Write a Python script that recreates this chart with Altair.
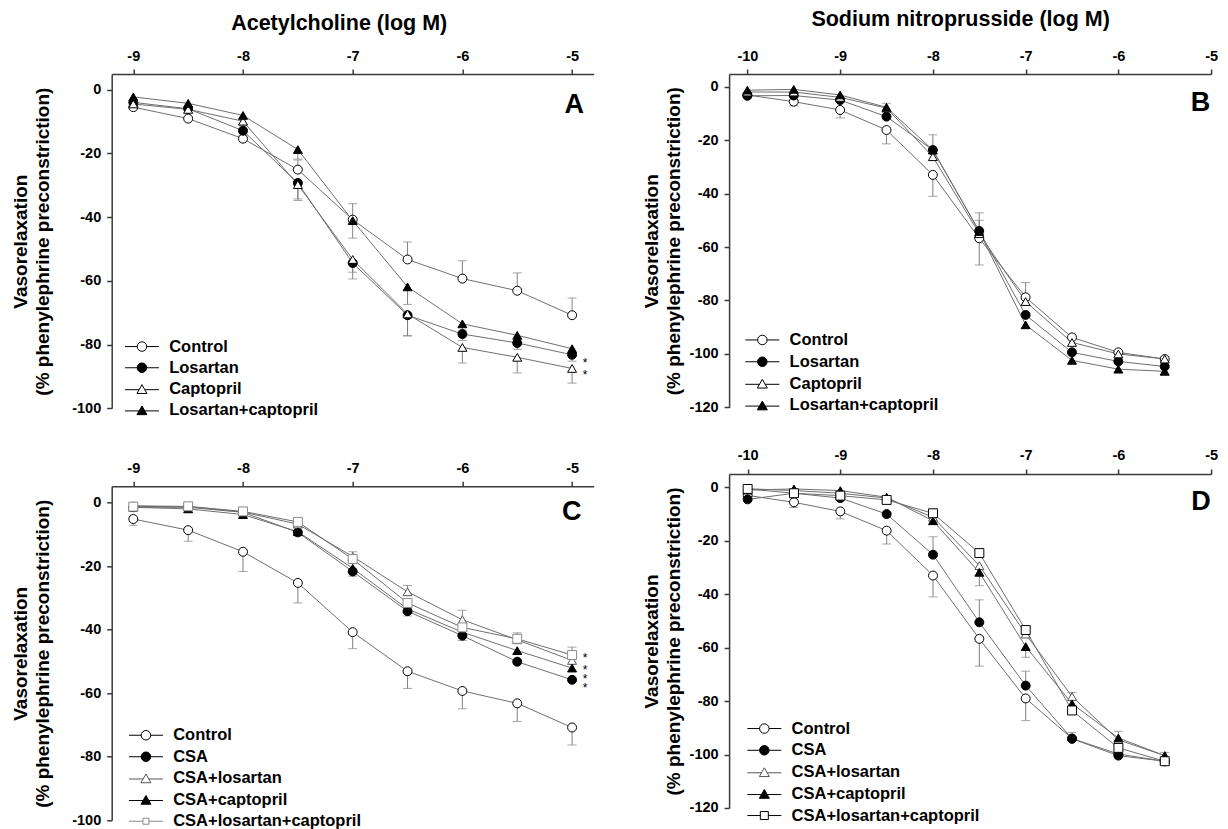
import altair as alt
import pandas as pd

FONT = "Liberation Sans"

# ---------------- data ----------------
# Panel A: acetylcholine, series 1
A_X = [-9, -8.5, -8, -7.5, -7, -6.5, -6, -5.5, -5]
A_NAMES = ["Control", "Losartan", "Captopril", "Losartan+captopril"]
A_CONTROL = [-5.5, -9.1, -15.4, -25.1, -40.8, -53.3, -59.3, -63.1, -70.8]
A_CONTROL_ERR = [0, 0, 1.5, 3.0, 5.0, 5.5, 5.6, 5.6, 5.4]
A_LOSARTAN = [-4.0, -6.0, -12.9, -29.3, -54.4, -70.8, -76.7, -79.5, -83.2]
A_LOSARTAN_ERR = [0, 0, -1.5, -5.0, -5.0, -6.5, -2.0, -2.0, -2.0]
A_CAPTOPRIL = [-4.5, -6.2, -9.9, -29.8, -53.3, -70.4, -80.9, -84.0, -87.5]
A_CAPTOPRIL_ERR = [0, 0, -1.5, -5.0, -4.0, -6.8, -4.9, -4.9, -4.6]
A_LOSCAP = [-2.3, -4.3, -8.1, -18.8, -41.1, -61.9, -73.5, -77.1, -81.3]
A_LOSCAP_ERR = [0, 0, -1.0, -3.0, -5.5, -5.5, -2.0, -2.0, -1.5]
A_STARS = [-85.0, -88.6]

# Panel B: sodium nitroprusside, series 1
B_X = [-10, -9.5, -9, -8.5, -8, -7.5, -7, -6.5, -6, -5.5]
B_NAMES = ["Control", "Losartan", "Captopril", "Losartan+captopril"]
B_CONTROL = [-3.1, -5.6, -8.7, -16.2, -33.0, -56.7, -78.8, -93.8, -99.4, -101.9]
B_CONTROL_ERR = [0, -1.5, -3.0, -5.2, -8.0, -10.0, 5.5, 0, 0, 0]
B_LOSARTAN = [-3.4, -3.3, -5.0, -11.2, -23.7, -54.0, -85.4, -99.4, -102.8, -104.7]
B_LOSARTAN_ERR = [0, 0, 0, 0, 5.7, 6.8, 0, 0, 0, 0]
B_CAPTOPRIL = [-2.0, -2.0, -4.0, -8.0, -26.2, -55.0, -80.4, -95.7, -100.0, -101.9]
B_CAPTOPRIL_ERR = [0, 0, 0, 0, 0, 5.0, 0, 0, 0, 0]
B_LOSCAP = [-1.3, -1.0, -3.1, -7.7, -23.7, -54.2, -89.1, -102.4, -105.7, -106.5]
B_LOSCAP_ERR = [0, 0, 0, 1.5, 0, 0, 0, 0, 0, 0]

# Panel C: acetylcholine, cyclosporine series
C_X = [-9, -8.5, -8, -7.5, -7, -6.5, -6, -5.5, -5]
C_NAMES = ["Control", "CSA", "CSA+losartan", "CSA+captopril", "CSA+losartan+captopril"]
C_CONTROL = [-5.2, -8.7, -15.5, -25.3, -40.8, -53.1, -59.3, -63.2, -70.8]
C_CONTROL_ERR = [-2.0, -3.5, -6.2, -6.3, -5.2, -5.4, -5.6, -5.7, -5.5]
C_CSA = [-1.5, -1.5, -3.1, -9.4, -21.7, -34.2, -41.9, -50.1, -55.8]
C_CSA_ERR = [0, 0, 0, -1.0, -1.5, -1.5, -1.5, 0, 0]
C_CSALOS = [-1.0, -1.3, -3.0, -6.8, -17.0, -28.1, -36.9, -43.2, -49.7]
C_CSALOS_ERR = [0, 0, 0, 0, 1.5, 2.0, 3.0, 2.2, 1.5]
C_CSACAP = [-1.5, -2.0, -3.8, -9.2, -20.7, -33.5, -40.8, -46.6, -52.1]
C_CSACAP_ERR = [0, 0, 0, 0, 0, 0, 0, 0, 0]
C_CSALOSCAP = [-1.3, -1.2, -2.8, -6.1, -17.8, -31.6, -39.3, -42.9, -48.0]
C_CSALOSCAP_ERR = [0, 0, 0, 0, 0, 0, 0, 0, 2.5]
C_STARS = [-47.9, -51.8, -54.7, -57.5]

# Panel D: sodium nitroprusside, cyclosporine series
D_X = [-10, -9.5, -9, -8.5, -8, -7.5, -7, -6.5, -6, -5.5]
D_NAMES = ["Control", "CSA", "CSA+losartan", "CSA+captopril", "CSA+losartan+captopril"]
D_CONTROL = [-3.0, -5.6, -9.0, -16.2, -33.0, -56.7, -79.0, -94.0, -99.8, -102.5]
D_CONTROL_ERR = [0, -1.9, -2.8, -5.0, -8.0, -10.2, -8.3, 0, 0, 0]
D_CSA = [-4.5, -2.2, -4.0, -10.0, -25.2, -50.5, -74.2, -94.1, -100.4, -102.5]
D_CSA_ERR = [0, 0, 0, 0, 6.7, 8.4, 5.4, 2.4, 0, 0]
D_CSALOS = [-0.5, -1.2, -2.2, -4.0, -11.2, -29.3, -54.9, -78.3, -94.5, -100.4]
D_CSALOS_ERR = [1.5, 0, 0, 0, 0, 0, 0, 1.5, 0, 0]
D_CSACAP = [-1.0, -0.6, -1.2, -3.7, -12.5, -31.8, -59.6, -81.0, -93.8, -100.4]
D_CSACAP_ERR = [0, 0, 0, 0, 0, -5.0, -4.0, 0, 2.5, 1.2]
D_CSALOSCAP = [-0.6, -2.2, -3.1, -4.7, -9.7, -24.6, -53.4, -83.5, -97.5, -102.5]
D_CSALOSCAP_ERR = [0, 0, 0, 0, 0, 0, 0, 0, 0, 0]

ACH_TICKS = [-9, -8, -7, -6, -5]
SNP_TICKS = [-10, -9, -8, -7, -6, -5]
Y_TICKS_100 = [0, -20, -40, -60, -80, -100]
Y_TICKS_120 = [0, -20, -40, -60, -80, -100, -120]
Y_TITLE = ["Vasorelaxation", "(% phenylephrine preconstriction)"]

# ---------------- styles ----------------
CIRC_L = "M-3.4,0H-0.95M0.95,0H3.4M0.95,0A0.95,0.95,0,1,1,-0.95,0A0.95,0.95,0,1,1,0.95,0Z"
TRI_L = "M-3.4,0.15H-0.57M0.57,0.15H3.4M0,-0.85L1.0,0.9L-1.0,0.9Z"
SQ_L = "M-3.4,0H-0.8M0.8,0H3.4M-0.8,-0.8H0.8V0.8H-0.8Z"
SQS_L = "M-3.4,0H-0.6M0.6,0H3.4M-0.6,-0.6H0.6V0.6H-0.6Z"


def long_df(xs, names, ys_list, errs_list):
    rows = []
    for name, ys, es in zip(names, ys_list, errs_list):
        for x, y, e in zip(xs, ys, es):
            rows.append({"x": x, "y": y, "err": e, "yend": y + e, "series": name})
    return pd.DataFrame(rows)


def panel(df, names, shapes, sizes, fills, strokes, lpaths, stars, star_x, letter, c):
    w, h = c["w"], c["h"]
    xaxis = alt.Axis(orient="top", values=c["xticks"], labelExpr="datum.value + ''",
                     title=c["xtitle"], titleX=w / 2 + c["txdx"], titleY=c["tyy"],
                     titleBaseline="middle", labelPadding=6, labelFlush=False,
                     labelOverlap=False, grid=False)
    yaxis = alt.Axis(values=c["yticks"], labelExpr="datum.value + ''", title=Y_TITLE,
                     titleX=c["ytx"], titleY=h / 2, titleBaseline="middle",
                     titleAlign="center", titleLineHeight=22, labelPadding=6,
                     labelFlush=False, labelOverlap=False, grid=False)

    def X(f):
        return alt.X(f"{f}:Q", scale=alt.Scale(domain=c["xdom"], nice=False, zero=False), axis=xaxis)

    def Y(f):
        return alt.Y(f"{f}:Q", scale=alt.Scale(domain=c["ydom"], nice=False, zero=False), axis=yaxis)

    base = alt.Chart(df)
    errd = base.transform_filter("datum.err != 0")
    rules = errd.mark_rule(color="#808080", strokeWidth=1).encode(x=X("x"), y=Y("y"), y2="yend:Q")
    caps = errd.mark_tick(orient="horizontal", size=9, thickness=1, color="#808080").encode(
        x=X("x"), y=Y("yend"))
    lines = base.mark_line(color="#6e6e6e", strokeWidth=1).encode(
        x=X("x"), y=Y("y"), detail="series:N")
    pts = base.mark_point(filled=True, opacity=1, strokeWidth=1).encode(
        x=X("x"), y=Y("y"),
        shape=alt.Shape("series:N", scale=alt.Scale(domain=names, range=shapes), legend=None),
        fill=alt.Fill("series:N", scale=alt.Scale(domain=names, range=fills), legend=None),
        stroke=alt.Stroke("series:N", scale=alt.Scale(domain=names, range=strokes), legend=None),
        size=alt.Size("series:N", scale=alt.Scale(domain=names, range=sizes), legend=None),
    )
    leg = alt.Legend(orient="none", legendX=c["lx"], legendY=c["ly"], title=None, padding=0,
                     rowPadding=c["lrow"], labelOffset=19, symbolSize=100, symbolStrokeWidth=1,
                     labelFont=FONT, labelFontSize=16.5, labelFontWeight="bold", labelColor="black",
                     labelLimit=0)
    legl = base.transform_filter("false").mark_point(filled=True, opacity=1, size=100, strokeWidth=1).encode(
        x=X("x"), y=Y("y"),
        shape=alt.Shape("series:N", scale=alt.Scale(domain=names, range=lpaths), legend=leg),
        fill=alt.Fill("series:N", scale=alt.Scale(domain=names, range=fills), legend=leg),
        stroke=alt.Stroke("series:N", scale=alt.Scale(domain=names, range=strokes), legend=leg),
    )
    layers = [rules, caps, lines, pts, legl]
    if stars:
        sdf = pd.DataFrame({"x": [star_x] * len(stars), "y": stars})
        layers.append(alt.Chart(sdf).mark_text(text="*", dx=13, dy=3, fontSize=12, font=FONT,
                                               color="black").encode(x=X("x"), y=Y("y")))
    ldf = pd.DataFrame({"t": [letter]})
    layers.append(alt.Chart(ldf).mark_text(font=FONT, fontSize=27, fontWeight="bold", align="center",
                                           baseline="middle", color="black").encode(
        text="t:N", x=alt.value(c["letx"]), y=alt.value(c["lety"])))
    return alt.layer(*layers).resolve_scale(
        shape="independent", fill="independent", stroke="independent").properties(width=w, height=h)


W1, W2 = 482, 482

dfA = long_df(A_X, A_NAMES, [A_CONTROL, A_LOSARTAN, A_CAPTOPRIL, A_LOSCAP],
              [A_CONTROL_ERR, A_LOSARTAN_ERR, A_CAPTOPRIL_ERR, A_LOSCAP_ERR])
dfB = long_df(B_X, B_NAMES, [B_CONTROL, B_LOSARTAN, B_CAPTOPRIL, B_LOSCAP],
              [B_CONTROL_ERR, B_LOSARTAN_ERR, B_CAPTOPRIL_ERR, B_LOSCAP_ERR])
dfC = long_df(C_X, C_NAMES, [C_CONTROL, C_CSA, C_CSALOS, C_CSACAP, C_CSALOSCAP],
              [C_CONTROL_ERR, C_CSA_ERR, C_CSALOS_ERR, C_CSACAP_ERR, C_CSALOSCAP_ERR])
dfD = long_df(D_X, D_NAMES, [D_CONTROL, D_CSA, D_CSALOS, D_CSACAP, D_CSALOSCAP],
              [D_CONTROL_ERR, D_CSA_ERR, D_CSALOS_ERR, D_CSACAP_ERR, D_CSALOSCAP_ERR])

four_shapes = ["circle", "circle", "triangle-up", "triangle-up"]
four_lpaths = [CIRC_L, CIRC_L, TRI_L, TRI_L]
four_fills = ["white", "black", "white", "black"]
four_strokes = ["black", "black", "black", "black"]
four_sizes = [80, 80, 85, 85]

pA = panel(dfA, A_NAMES, four_shapes, four_sizes, four_fills, four_strokes, four_lpaths,
           A_STARS, A_X[-1], "A",
           dict(w=W1, h=334.3, xdom=[-9.197, -4.803], ydom=[-100, 4.9], xticks=ACH_TICKS,
                yticks=Y_TICKS_100, xtitle="Acetylcholine (log M)", txdx=-14, tyy=-50.4, ytx=-91,
                lx=22, ly=264.3, lrow=4.2, letx=462.5, lety=30.6))
pB = panel(dfB, B_NAMES, four_shapes, four_sizes, four_fills, four_strokes, four_lpaths,
           [], B_X[-1], "B",
           dict(w=W2, h=333.4, xdom=[-10.197, -5.0], ydom=[-120, 4.75], xticks=SNP_TICKS,
                yticks=Y_TICKS_120, xtitle="Sodium nitroprusside (log M)", txdx=-10, tyy=-55.0, ytx=-78,
                lx=25, ly=257.7, lrow=4.8, letx=471.5, lety=29.4))
pC = panel(dfC, C_NAMES, ["circle", "circle", "triangle-up", "triangle-up", "square"],
           [80, 80, 85, 85, 40], ["white", "black", "white", "black", "white"],
           ["black", "black", "#555555", "black", "#8a8a8a"],
           [CIRC_L, CIRC_L, TRI_L, TRI_L, SQS_L],
           C_STARS, C_X[-1], "C",
           dict(w=W1, h=334.0, xdom=[-9.197, -4.803], ydom=[-100, 5.1], xticks=ACH_TICKS,
                yticks=Y_TICKS_100, xtitle=None, txdx=0, tyy=-50.4, ytx=-91,
                lx=26, ly=240.7, lrow=4.5, letx=460, lety=25.7))
pD = panel(dfD, D_NAMES, ["circle", "circle", "triangle-up", "triangle-up", "square"],
           [80, 80, 85, 85, 65], ["white", "black", "white", "black", "white"],
           ["black", "black", "#555555", "black", "black"],
           [CIRC_L, CIRC_L, TRI_L, TRI_L, SQ_L],
           [], D_X[-1], "D",
           dict(w=W2, h=334.0, xdom=[-10.2, -5.0], ydom=[-120, 5.0], xticks=SNP_TICKS,
                yticks=Y_TICKS_120, xtitle=None, txdx=0, tyy=-55.0, ytx=-78,
                lx=27, ly=246.3, lrow=4.75, letx=472, lety=28.3))

col1 = alt.vconcat(pA, pC, spacing=77.3, bounds="flush")
col2 = alt.vconcat(pB, pD, spacing=66, bounds="flush")
chart = alt.hconcat(col1, col2, spacing=47.4).properties(
    padding={"left": 2.7, "top": 0, "right": 0, "bottom": 0}
).configure(font=FONT).configure_view(strokeWidth=0).configure_axis(
    labelFont=FONT, labelFontSize=14.5, labelFontWeight="bold", labelColor="black",
    titleFont=FONT, titleFontSize=19, titleFontWeight="bold", titleColor="black",
    domainColor="#3a3a3a", domainWidth=1.5, tickColor="#3a3a3a", tickWidth=1.5, tickSize=5,
).configure_axisTop(titleFontSize=21.5)

chart.save("out.html", embed_options={"renderer": "svg", "actions": False})
